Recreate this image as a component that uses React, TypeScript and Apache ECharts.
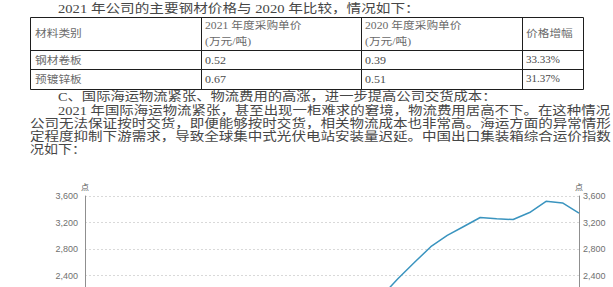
import React, { useEffect, useRef } from 'react';
import * as echarts from 'echarts';

// ---- data ----
const months = [
  '2019-10', '2019-11', '2019-12', '2020-01', '2020-02', '2020-03', '2020-04', '2020-05',
  '2020-06', '2020-07', '2020-08', '2020-09', '2020-10', '2020-11', '2020-12', '2021-01',
  '2021-02', '2021-03', '2021-04', '2021-05', '2021-06', '2021-07', '2021-08', '2021-09',
  '2021-10', '2021-11', '2021-12', '2022-01', '2022-02', '2022-03', '2022-04',
];
const ccfi = [
  830, 835, 900, 950, 920, 880, 850, 830,
  850, 880, 920, 1000, 1100, 1300, 1500, 1900,
  2000, 2000, 2083, 2352, 2595, 2835, 3005, 3140,
  3275, 3255, 3245, 3350, 3520, 3495, 3342,
];
const yMin = 800;
const yMax = 3600;
const yInterval = 400;
const visibleTickLabels = [2400, 2800, 3200, 3600];
const unitName = '点';

const tableHeader = ['材料类别', '2021 年度采购单价', '2020 年度采购单价', '价格增幅'];
const tableUnit = '(万元/吨)';
const materials = ['钢材卷板', '预镀锌板'];
const price2021 = ['0.52', '0.67'];
const price2020 = ['0.39', '0.51'];
const growth = ['33.33%', '31.37%'];

const introLine = '2021 年公司的主要钢材价格与 2020 年比较，情况如下：';
const paragraphLines = [
  'C、国际海运物流紧张、物流费用的高涨，进一步提高公司交货成本：',
  '2021 年国际海运物流紧张，甚至出现一柜难求的窘境，物流费用居高不下。在这种情况',
  '公司无法保证按时交货，即便能够按时交货，相关物流成本也非常高。海运方面的异常情形',
  '定程度抑制下游需求，导致全球集中式光伏电站安装量迟延。中国出口集装箱综合运价指数',
  '况如下：',
];

// ---- layout / style ----
const BODY_FONT = '12.5px "Liberation Serif", "Noto Sans CJK SC"';
const TABLE_FONT = '10px "Liberation Serif", "Noto Sans CJK SC"';
const TEXT_COLOR = '#464646';

function textEl(text: string, x: number, y: number, sx: number, font: string, fill: string) {
  return {
    type: 'text',
    x,
    y,
    scaleX: sx,
    silent: true,
    style: {
      text,
      font,
      fill,
      textAlign: 'left',
      align: 'left',
      textVerticalAlign: 'middle',
      verticalAlign: 'middle',
    },
  };
}

function lineEl(x1: number, y1: number, x2: number, y2: number) {
  return {
    type: 'line',
    silent: true,
    shape: { x1, y1, x2, y2 },
    style: { stroke: '#1e1e1e', lineWidth: 1 },
  };
}

export default function App() {
  const ref = useRef<HTMLDivElement>(null);

  useEffect(() => {
    if (!ref.current) return;
    const chart = echarts.init(ref.current, undefined, { renderer: 'svg' });

    const graphic: any[] = [];
    // body text
    const bodyPos = [
      { x: 58, y: 9, sx: 1.17 },
      { x: 58, y: 97, sx: 1.145 },
      { x: 58, y: 111, sx: 1.155 },
      { x: 30, y: 124, sx: 1.162 },
      { x: 30, y: 137, sx: 1.162 },
      { x: 30, y: 150, sx: 1.12 },
    ];
    const allLines = [introLine, ...paragraphLines];
    allLines.forEach((t, i) => {
      const p = bodyPos[i];
      graphic.push(textEl(t, p.x, p.y, p.sx, BODY_FONT, TEXT_COLOR));
    });

    // table grid
    const colX = [30.5, 201.5, 361.5, 522.5, 583.5];
    const rowY = [17.5, 50.5, 69.5, 89.5];
    rowY.forEach((y) => graphic.push(lineEl(colX[0], y, colX[colX.length - 1], y)));
    colX.forEach((x) => graphic.push(lineEl(x, rowY[0], x, rowY[rowY.length - 1])));

    const cellX = [35, 205, 365, 526];
    const headColor = '#6a6a6a';
    const cellColor = '#4a4a4a';
    const tsx = 1.17;
    graphic.push(textEl(tableHeader[0], cellX[0], 33, tsx, TABLE_FONT, headColor));
    graphic.push(textEl(tableHeader[1], cellX[1], 25, tsx, TABLE_FONT, headColor));
    graphic.push(textEl(tableUnit, cellX[1], 41, tsx, TABLE_FONT, headColor));
    graphic.push(textEl(tableHeader[2], cellX[2], 25, tsx, TABLE_FONT, headColor));
    graphic.push(textEl(tableUnit, cellX[2], 41, tsx, TABLE_FONT, headColor));
    graphic.push(textEl(tableHeader[3], cellX[3], 33, tsx, TABLE_FONT, headColor));
    const rowCenters = [60, 79];
    materials.forEach((m, i) => {
      const y = rowCenters[i];
      graphic.push(textEl(m, cellX[0], y, tsx, TABLE_FONT, headColor));
      graphic.push(textEl(price2021[i], cellX[1], y, 1.2, TABLE_FONT, cellColor));
      graphic.push(textEl(price2020[i], cellX[2], y, 1.2, TABLE_FONT, cellColor));
      graphic.push(textEl(growth[i], cellX[3], y, 1.1, TABLE_FONT, cellColor));
    });

    const fmt = (v: number) => (visibleTickLabels.includes(v) ? v.toLocaleString('en-US') : '');
    const axisCommon = {
      type: 'value',
      min: yMin,
      max: yMax,
      interval: yInterval,
      name: unitName,
      nameLocation: 'end',
      nameGap: 6,
      nameTextStyle: { fontSize: 8, color: '#555', fontFamily: 'Noto Sans CJK SC' },
      axisLine: { show: true, lineStyle: { color: '#8f8f8f', width: 1 } },
      axisTick: { show: false },
    };

    chart.setOption({
      animation: false,
      grid: {
        left: 85,
        right: 34,
        top: 196,
        height: 185.5,
        containLabel: false,
        outerBoundsMode: 'none',
      },
      xAxis: {
        type: 'category',
        data: months,
        boundaryGap: false,
        axisLabel: { show: false },
        axisTick: { show: false },
        axisLine: { show: false },
        splitLine: { show: false },
      },
      yAxis: [
        {
          ...axisCommon,
          position: 'left',
          axisLabel: {
            fontSize: 9,
            color: '#707070',
            margin: 7,
            fontFamily: 'Liberation Sans',
            formatter: fmt,
          },
          splitLine: { show: true, lineStyle: { color: '#d9d9d9', type: [2, 2], width: 1 } },
        },
        {
          ...axisCommon,
          position: 'right',
          axisLabel: {
            fontSize: 9,
            color: '#707070',
            margin: 4,
            fontFamily: 'Liberation Sans',
            formatter: fmt,
          },
          splitLine: { show: false },
        },
      ],
      series: [
        {
          type: 'line',
          data: ccfi,
          yAxisIndex: 0,
          showSymbol: false,
          symbol: 'none',
          lineStyle: { color: '#3a94bf', width: 1.5 },
        },
      ],
      graphic,
    });

    return () => chart.dispose();
  }, []);

  return (
    <div
      ref={ref}
      style={{ position: 'absolute', left: 0, top: 0, width: 613, height: 287, background: '#fff' }}
    />
  );
}
